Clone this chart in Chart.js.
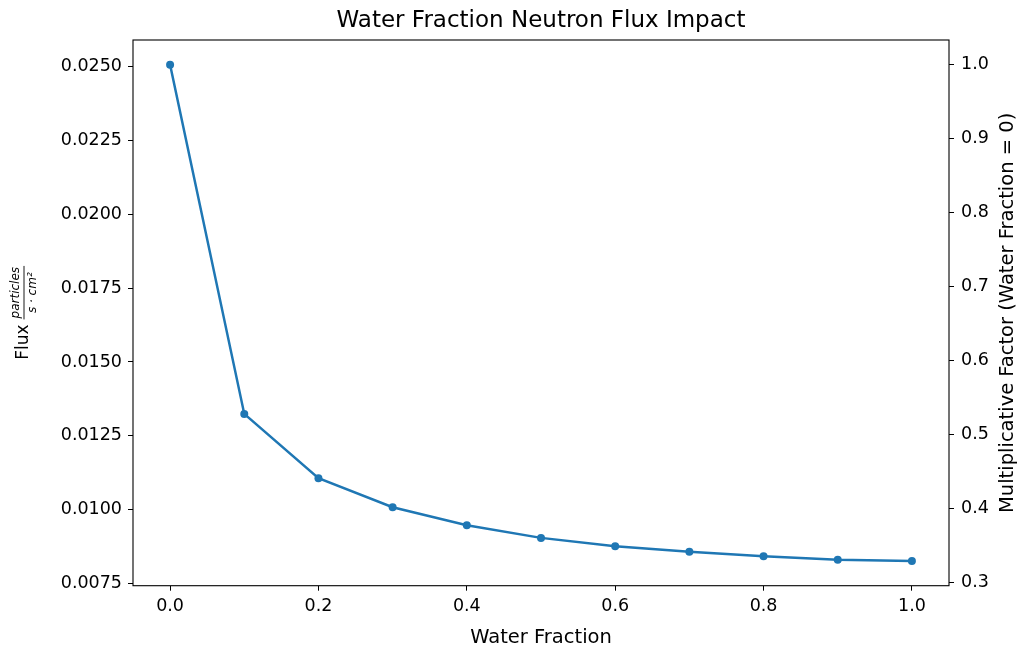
<!DOCTYPE html>
<html>
<head>
<meta charset="utf-8">
<script src="https://cdn.jsdelivr.net/npm/chart.js@4.4.1/dist/chart.umd.min.js"></script>
<style>
  html, body { margin: 0; padding: 0; background: #fff; }
</style>
</head>
<body>
<canvas id="chart" width="1021" height="647"></canvas>
<script>
// values
const waterFraction = [0.0, 0.1, 0.2, 0.3, 0.4, 0.5, 0.6, 0.7, 0.8, 0.9, 1.0];
const flux = [0.02507, 0.01324, 0.01106, 0.01008, 0.00947, 0.00904, 0.00876, 0.00857, 0.00842, 0.00830, 0.00826];

// tick labels
const xTicks = [0.0, 0.2, 0.4, 0.6, 0.8, 1.0];
const fluxTicks = [0.0075, 0.0100, 0.0125, 0.0150, 0.0175, 0.0200, 0.0225, 0.0250];
const factorTicks = [0.3, 0.4, 0.5, 0.6, 0.7, 0.8, 0.9, 1.0];

const titleText = 'Water Fraction Neutron Flux Impact';
const xLabel = 'Water Fraction';
const rightLabel = 'Multiplicative Factor (Water Fraction = 0)';

const FONT = '"DejaVu Sans", sans-serif';
const BLUE = '#1f77b4';
const TICK_SIZE = 17.5;
const LABEL_SIZE = 19.5;

// matplotlib style 5% margins around the data
const margin = (arr) => {
  const lo = Math.min(...arr), hi = Math.max(...arr);
  const pad = (hi - lo) * 0.05;
  return [lo - pad, hi + pad];
};
const [xMin, xMax] = margin(waterFraction);
const [yMin, yMax] = margin(flux);

Chart.defaults.font.family = FONT;
Chart.defaults.color = '#000';

const setTicks = (list) => (scale) => { scale.ticks = list.map(v => ({ value: v })); };

const tickGrid = {
  drawOnChartArea: false,
  drawTicks: true,
  tickLength: 5,
  color: '#000',
  lineWidth: 1,
};

// frame, title and axis labels (matplotlib look)
const decorations = {
  id: 'decorations',
  afterDatasetsDraw(chart) {
    const { ctx, chartArea: a } = chart;
    const midX = (a.left + a.right) / 2;
    const midY = (a.top + a.bottom) / 2;
    ctx.save();
    ctx.strokeStyle = '#000';
    ctx.lineWidth = 1.1;
    ctx.strokeRect(a.left, a.top, a.right - a.left, a.bottom - a.top);

    ctx.fillStyle = '#000';
    ctx.textAlign = 'center';

    ctx.textBaseline = 'alphabetic';
    ctx.font = '23px ' + FONT;
    ctx.fillText(titleText, midX, 27);

    ctx.font = LABEL_SIZE + 'px ' + FONT;
    ctx.fillText(xLabel, midX, 643);

    // right axis label, reading bottom to top
    ctx.textBaseline = 'middle';
    ctx.save();
    ctx.translate(1008, midY);
    ctx.rotate(-Math.PI / 2);
    ctx.fillText(rightLabel, 0, 0);
    ctx.restore();

    // left axis label: Flux particles / (s · cm²)
    ctx.save();
    ctx.translate(24, midY);
    ctx.rotate(-Math.PI / 2);
    ctx.font = '17px ' + FONT;
    const fluxW = ctx.measureText('Flux').width;
    ctx.font = 'italic 12px ' + FONT;
    const numW = ctx.measureText('particles').width;
    const denW = ctx.measureText('s \u00b7 cm\u00b2').width;
    const fracW = Math.max(numW, denW) + 2;
    const gap = 5;
    const total = fluxW + gap + fracW;
    const x0 = -total / 2;
    ctx.font = '17px ' + FONT;
    ctx.textAlign = 'left';
    ctx.fillText('Flux', x0, 0);
    const fx = x0 + fluxW + gap + fracW / 2;
    ctx.textAlign = 'center';
    ctx.font = 'italic 12px ' + FONT;
    ctx.fillText('particles', fx, -8);
    ctx.fillText('s \u00b7 cm\u00b2', fx, 9);
    ctx.lineWidth = 0.9;
    ctx.beginPath();
    ctx.moveTo(fx - fracW / 2, 0);
    ctx.lineTo(fx + fracW / 2, 0);
    ctx.stroke();
    ctx.restore();

    ctx.restore();
  }
};

new Chart(document.getElementById('chart'), {
  type: 'line',
  data: {
    datasets: [{
      data: waterFraction.map((x, i) => ({ x: x, y: flux[i] })),
      borderColor: BLUE,
      backgroundColor: BLUE,
      borderWidth: 2.5,
      pointRadius: 4,
      pointBorderWidth: 0,
      pointBackgroundColor: BLUE,
      tension: 0,
      yAxisID: 'y',
    }]
  },
  options: {
    responsive: false,
    animation: false,
    devicePixelRatio: 1,
    layout: { padding: { top: 40, left: 0, right: 0, bottom: 0 } },
    plugins: {
      legend: { display: false },
      title: { display: false },
      tooltip: { enabled: false },
    },
    scales: {
      x: {
        type: 'linear',
        min: xMin,
        max: xMax,
        afterBuildTicks: setTicks(xTicks),
        afterFit: (s) => { s.height = 61.3; },
        grid: tickGrid,
        border: { display: false },
        ticks: {
          autoSkip: false, maxRotation: 0, padding: 5,
          font: { size: TICK_SIZE },
          callback: (v) => v.toFixed(1),
        },
      },
      y: {
        position: 'left',
        min: yMin,
        max: yMax,
        afterBuildTicks: setTicks(fluxTicks),
        afterFit: (s) => { s.width = 133; },
        grid: tickGrid,
        border: { display: false },
        ticks: {
          autoSkip: false, padding: 6,
          font: { size: TICK_SIZE },
          callback: (v) => v.toFixed(4),
        },
      },
      y2: {
        position: 'right',
        min: yMin / flux[0],
        max: yMax / flux[0],
        afterBuildTicks: setTicks(factorTicks),
        afterFit: (s) => { s.width = 72; },
        grid: tickGrid,
        border: { display: false },
        ticks: {
          autoSkip: false, padding: 7,
          font: { size: TICK_SIZE },
          callback: (v) => v.toFixed(1),
        },
      },
    },
  },
  plugins: [decorations],
});
</script>
</body>
</html>
